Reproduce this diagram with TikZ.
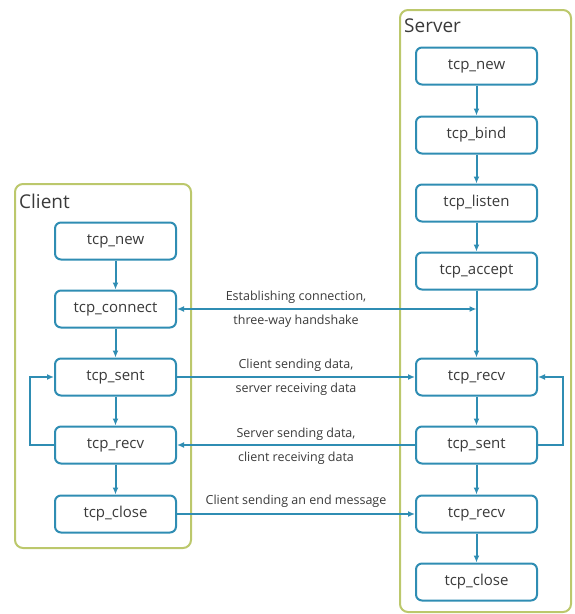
\documentclass[tikz,border=0pt]{standalone}
\usepackage{fontspec}
\setmainfont{Open Sans}
\usetikzlibrary{arrows.meta}
\definecolor{flow}{HTML}{2F8DB3}
\definecolor{framecol}{HTML}{BCC86C}
\definecolor{ink}{HTML}{3A3A3A}
\begin{document}
\begin{tikzpicture}[x=1pt,y=-1pt,
  stepbox/.style={draw=flow, line width=2pt, rounded corners=6pt,
    minimum width=121pt, minimum height=37pt, inner sep=0pt,
    font=\fontsize{15}{17}\selectfont, text=ink, fill=white},
  group/.style={draw=framecol, line width=2pt, rounded corners=8pt},
  grouplbl/.style={anchor=west, font=\fontsize{19}{21}\selectfont, text=ink, inner sep=0pt},
  link/.style={draw=flow, line width=2pt, -{Latex[length=7pt,width=6pt]}},
  note/.style={font=\fontsize{12.5}{14}\selectfont, text=ink, inner sep=0pt}]
\useasboundingbox (0,0) rectangle (574,614);

% group frames
\draw[group] (15,184) rectangle (191,548);
\draw[group] (400,10) rectangle (571,612);
\node[grouplbl] (clientlbl) at (19,201) {Client};
\node[grouplbl] (serverlbl) at (404,26) {Server};

% client steps
\node[stepbox] (cnew)   at (115.5,241) {tcp\_new};
\node[stepbox] (cconn)  at (115.5,309) {tcp\_connect};
\node[stepbox] (csent)  at (115.5,377) {tcp\_sent};
\node[stepbox] (crecv)  at (115.5,445) {tcp\_recv};
\node[stepbox] (cclose) at (115.5,514) {tcp\_close};

% server steps
\node[stepbox] (snew)    at (476.5,66)  {tcp\_new};
\node[stepbox] (sbind)   at (476.5,135) {tcp\_bind};
\node[stepbox] (slisten) at (476.5,203) {tcp\_listen};
\node[stepbox] (saccept) at (476.5,271) {tcp\_accept};
\node[stepbox] (srecv)   at (476.5,377) {tcp\_recv};
\node[stepbox] (ssent)   at (476.5,445) {tcp\_sent};
\node[stepbox] (srecvb)  at (476.5,514) {tcp\_recv};
\node[stepbox] (sclose)  at (476.5,582) {tcp\_close};

% vertical flow
\draw[link] (cnew) -- (cconn);
\draw[link] (cconn) -- (csent);
\draw[link] (csent) -- (crecv);
\draw[link] (crecv) -- (cclose);
\draw[link] (snew) -- (sbind);
\draw[link] (sbind) -- (slisten);
\draw[link] (slisten) -- (saccept);
\draw[link] (saccept) -- (srecv);
\draw[link] (srecv) -- (ssent);
\draw[link] (ssent) -- (srecvb);
\draw[link] (srecvb) -- (sclose);

% loops
\draw[link] (crecv.west) -- ++(-24,0) |- (csent.west);
\draw[link] (ssent.east) -- ++(25,0) |- (srecv.east);

% messages between client and server
\coordinate (hs) at (saccept.south |- cconn.east);
\draw[link, {Latex[length=7pt,width=6pt]}-{Latex[length=7pt,width=6pt]}] (cconn.east) -- (hs);
\draw[link] (csent.east) -- (srecv.west);
\draw[link] (ssent.west) -- (crecv.east);
\draw[link] (cclose.east) -- (srecvb.west);

% message labels
\node[note] (m1a) at (296,297) {Establishing connection,};
\node[note] (m1b) at (296,321) {three-way handshake};
\node[note] (m2a) at (296,365) {Client sending data,};
\node[note] (m2b) at (296,389) {server receiving data};
\node[note] (m3a) at (296,434) {Server sending data,};
\node[note] (m3b) at (296,458) {client receiving data};
\node[note] (m4a) at (296,501) {Client sending an end message};
\end{tikzpicture}
\end{document}
